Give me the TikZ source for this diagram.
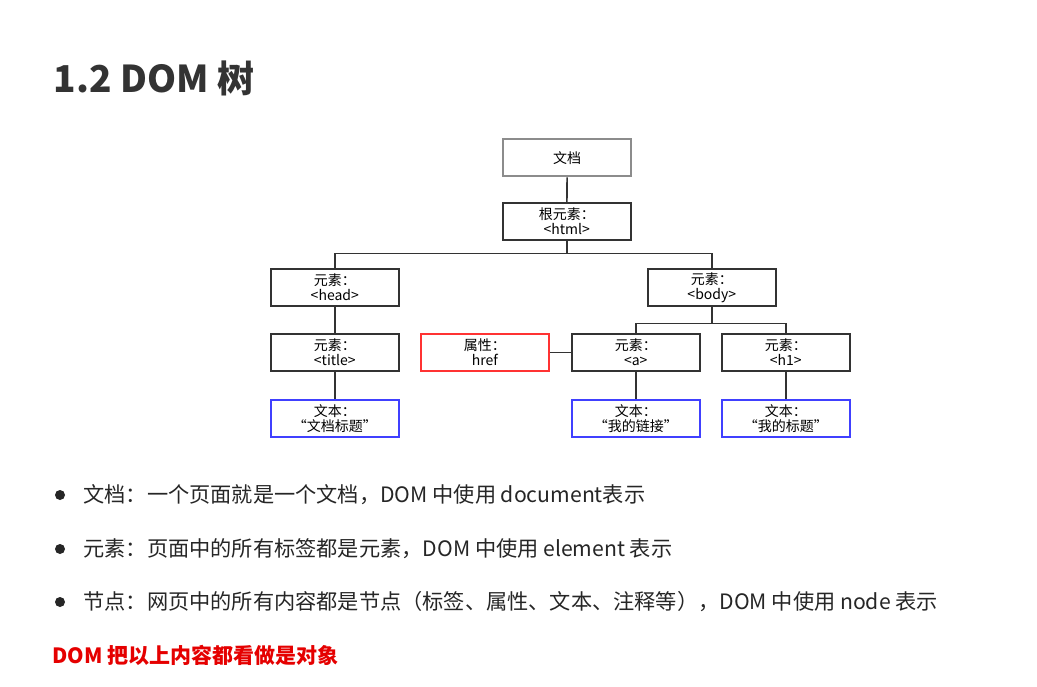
\documentclass[tikz,border=0pt]{standalone}
\usepackage{fontspec}
\setmainfont{Noto Sans CJK SC}
\begin{document}
\begin{tikzpicture}[x=1pt,y=-1pt,
  box/.style={draw=black!80,line width=1.6pt,minimum width=128pt,minimum height=37pt,inner sep=0pt,align=center,font=\fontsize{14}{15}\selectfont,anchor=north west},
  ln/.style={draw=black!80,line width=1.6pt},
  bul/.style={anchor=west,font=\fontsize{21.2}{23}\selectfont,text=black!85}]
\fill[white] (0,0) rectangle (1037,687);
\useasboundingbox (0,0) rectangle (1037,687);
\node[anchor=west,font=\fontsize{37}{40}\bfseries\selectfont,text=black!80] (t) at (50,78) {1.2 DOM 树};
\node[box,draw=black!45,line width=2.4pt] (doc) at (502,138) {文档};
\node[box] (html) at (502,202) {根元素：\\<html>};
\node[box] (head) at (270,268) {元素：\\<head>};
\node[box] (body) at (647,268) {元素：\\<body>};
\node[box] (title) at (270,333) {元素：\\<title>};
\node[box,draw=red!80] (attr) at (420,333) {属性：\\href};
\node[box] (a) at (571,333) {元素：\\<a>};
\node[box] (h1) at (721,333) {元素：\\<h1>};
\node[box,draw=blue!75] (t1) at (270,399) {文本：\\“文档标题”};
\node[box,draw=blue!75] (t2) at (571,399) {文本：\\“我的链接”};
\node[box,draw=blue!75] (t3) at (721,399) {文本：\\“我的标题”};
\draw[ln] (doc) -- (html);
\draw[ln] (html.south) -- ++(0,13) -| (head.north);
\draw[ln] (html.south) -- ++(0,13) -| (body.north);
\draw[ln] (head) -- (title);
\draw[ln] (title) -- (t1);
\draw[ln] (body.south) -- ++(0,17) -| (a.north);
\draw[ln] (body.south) -- ++(0,17) -| (h1.north);
\draw[ln] (attr) -- (a);
\draw[ln] (a) -- (t2);
\draw[ln] (h1) -- (t3);
\foreach \y/\n/\s in {495/b1/{文档：一个页面就是一个文档，DOM 中使用 document表示},549/b2/{元素：页面中的所有标签都是元素，DOM 中使用 element 表示},602/b3/{节点：网页中的所有内容都是节点（标签、属性、文本、注释等），DOM 中使用 node 表示}}{
  \fill[black!85] (60,\y) circle (5);
  \node[bul] (\n) at (80,\y) {\s};
}
\node[anchor=west,font=\fontsize{21}{23}\bfseries\selectfont,text=red!90!black] (r) at (49,655) {DOM 把以上内容都看做是对象};
\end{tikzpicture}
\end{document}
